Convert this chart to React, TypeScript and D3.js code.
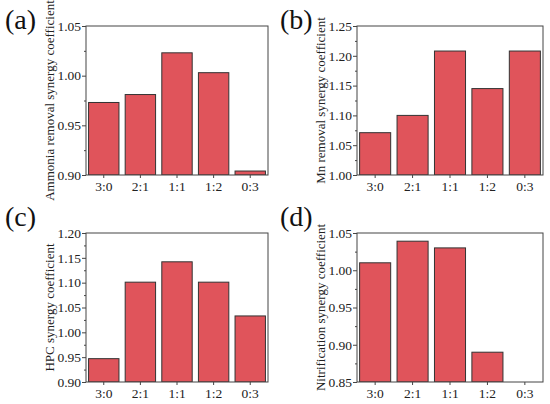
import * as d3 from "d3";
import { useEffect, useRef } from "react";

const categories = ["3:0", "2:1", "1:1", "1:2", "0:3"];

const ammoniaValues = [0.973, 0.981, 1.023, 1.003, 0.904];
const mnValues = [1.071, 1.1, 1.208, 1.145, 1.208];
const hpcValues = [0.947, 1.101, 1.142, 1.101, 1.033];
const nitrificationValues = [1.01, 1.039, 1.03, 0.89, 0.85];

const ammoniaTicks = [0.9, 0.95, 1.0, 1.05];
const mnTicks = [1.0, 1.05, 1.1, 1.15, 1.2, 1.25];
const hpcTicks = [0.9, 0.95, 1.0, 1.05, 1.1, 1.15, 1.2];
const nitrificationTicks = [0.85, 0.9, 0.95, 1.0, 1.05];

const FONT = "'Liberation Serif', 'Times New Roman', serif";
const BAR_FILL = "#e0545b";

interface PanelProps {
  tag: string;
  label: string;
  values: number[];
  ticks: number[];
  box: { x0: number; x1: number; y0: number; y1: number };
  labelX: number;
  tagPos: [number, number];
}

function Panel({ tag, label, values, ticks, box, labelX, tagPos }: PanelProps) {
  const gRef = useRef<SVGGElement>(null);

  useEffect(() => {
    if (!gRef.current) return;
    const g = d3.select(gRef.current);
    g.selectAll("*").remove();

    const domain: [number, number] = [ticks[0], ticks[ticks.length - 1]];
    const y = d3.scaleLinear().domain(domain).range([box.y1, box.y0]);
    const x = d3
      .scaleBand<string>()
      .domain(categories)
      .range([box.x0, box.x1])
      .paddingInner(0.17)
      .paddingOuter(0.07);

    const clipId = `clip-${tag}`;
    g.append("clipPath")
      .attr("id", clipId)
      .append("rect")
      .attr("x", box.x0)
      .attr("y", box.y0)
      .attr("width", box.x1 - box.x0)
      .attr("height", box.y1 - box.y0);

    // Bars
    g.append("g")
      .attr("clip-path", `url(#${clipId})`)
      .selectAll("rect")
      .data(values)
      .enter()
      .append("rect")
      .attr("x", (_, i) => x(categories[i])!)
      .attr("width", x.bandwidth())
      .attr("y", (d) => y(Math.max(d, domain[0])))
      .attr("height", (d) => box.y1 - y(Math.max(d, domain[0])))
      .attr("fill", BAR_FILL)
      .attr("stroke", "#333")
      .attr("stroke-width", 1);

    // Minor ticks at midpoints
    const minor = ticks.slice(1).map((t, i) => (t + ticks[i]) / 2);
    g.append("g")
      .attr("transform", `translate(${box.x0},0)`)
      .call(d3.axisLeft(y).tickValues(minor).tickSize(2).tickFormat(() => ""))
      .call((s) => s.select(".domain").remove())
      .selectAll("line")
      .attr("stroke", "#444");

    // Y axis
    const yAxis = g
      .append("g")
      .attr("transform", `translate(${box.x0},0)`)
      .call(
        d3
          .axisLeft(y)
          .tickValues(ticks)
          .tickSize(4)
          .tickPadding(1)
          .tickFormat(d3.format(".2f")),
      );
    yAxis.select(".domain").remove();
    yAxis.selectAll("line").attr("stroke", "#444");
    yAxis
      .selectAll("text")
      .attr("fill", "#222")
      .style("font-family", FONT)
      .style("font-size", "13.5px");

    // X axis
    const xAxis = g
      .append("g")
      .attr("transform", `translate(0,${box.y1})`)
      .call(d3.axisBottom(x).tickSize(3).tickPadding(3));
    xAxis.select(".domain").remove();
    xAxis.selectAll("line").attr("stroke", "#444");
    xAxis
      .selectAll("text")
      .attr("fill", "#222")
      .style("font-family", FONT)
      .style("font-size", "13.5px");

    // Frame
    g.append("rect")
      .attr("x", box.x0)
      .attr("y", box.y0)
      .attr("width", box.x1 - box.x0)
      .attr("height", box.y1 - box.y0)
      .attr("fill", "none")
      .attr("stroke", "#444")
      .attr("stroke-width", 1);

    // Y label
    g.append("text")
      .attr("transform", `translate(${labelX},${(box.y0 + box.y1) / 2}) rotate(-90)`)
      .attr("dy", "0.35em")
      .attr("text-anchor", "middle")
      .attr("fill", "#222")
      .style("font-family", FONT)
      .style("font-size", "13px")
      .text(label);

    // Panel tag
    g.append("text")
      .attr("x", tagPos[0])
      .attr("y", tagPos[1])
      .attr("fill", "#111")
      .style("font-family", FONT)
      .style("font-size", "28px")
      .text(`(${tag})`);
  }, [tag, label, values, ticks, box, labelX, tagPos]);

  return <g ref={gRef} />;
}

export default function App() {
  return (
    <svg
      width={550}
      height={404}
      style={{ position: "absolute", left: 0, top: 0, background: "#fff" }}
    >
      <Panel
        tag="a"
        label="Ammonia removal synergy coefficient"
        values={ammoniaValues}
        ticks={ammoniaTicks}
        box={{ x0: 86, x1: 268, y0: 26, y1: 175 }}
        labelX={49}
        tagPos={[5, 29]}
      />
      <Panel
        tag="b"
        label="Mn removal synergy coefficient"
        values={mnValues}
        ticks={mnTicks}
        box={{ x0: 357, x1: 543, y0: 26, y1: 175 }}
        labelX={320}
        tagPos={[280, 29]}
      />
      <Panel
        tag="c"
        label="HPC synergy coefficient"
        values={hpcValues}
        ticks={hpcTicks}
        box={{ x0: 86, x1: 268, y0: 233, y1: 382 }}
        labelX={49}
        tagPos={[5, 226]}
      />
      <Panel
        tag="d"
        label="Nitrification synergy coefficient"
        values={nitrificationValues}
        ticks={nitrificationTicks}
        box={{ x0: 357, x1: 543, y0: 233, y1: 382 }}
        labelX={320}
        tagPos={[280, 226]}
      />
    </svg>
  );
}
